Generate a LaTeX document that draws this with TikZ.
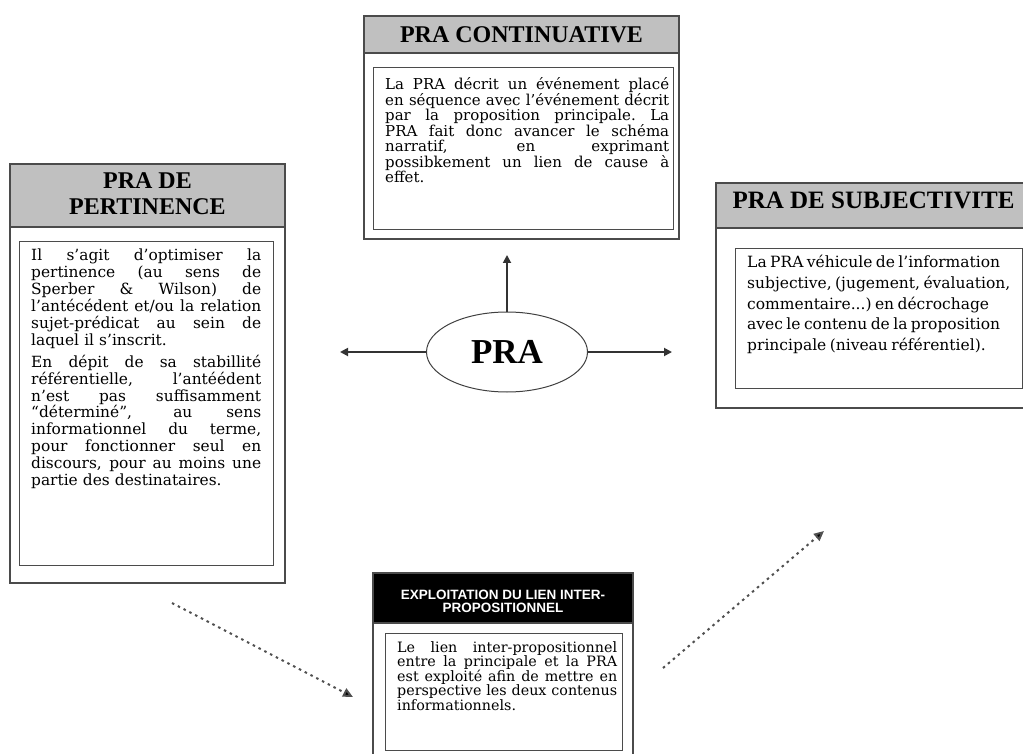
\documentclass[tikz,border=0pt]{standalone}
\usepackage{fontspec}
\setmainfont{DejaVu Serif}
\newfontfamily\titlefont{Liberation Serif}
\newfontfamily\bannerfont{Liberation Sans}
\usepackage{tikz}
\usetikzlibrary{shapes.geometric}
\usetikzlibrary{arrows.meta}
\definecolor{hdrgray}{RGB}{192,192,192}
\definecolor{framegray}{RGB}{75,75,75}
\definecolor{dotgray}{RGB}{80,80,80}
\newlength{\jlw}
\newcommand{\jl}[1]{\leavevmode\hbox to \jlw{\spaceskip=0.32em plus 8em minus 0.05em\xspaceskip=\spaceskip\relax #1}\\}

\begin{document}
\begin{tikzpicture}[x=1pt, y=-1pt,
            outerframe/.style={draw=framegray, line width=1.3pt},
            hdrband/.style={draw=framegray, line width=1.3pt, fill=hdrgray},
            innerframe/.style={draw=framegray, line width=1pt},
            hdrtitle/.style={inner sep=0pt, align=center, font=\titlefont\bfseries\fontsize{24}{26}\selectfont},
            bodytext/.style={anchor=north west, inner sep=0pt, align=left},
            solidarrow/.style={draw=black!80, line width=1.8pt, -{Triangle[length=8pt,width=8pt]}},
            dotarrow/.style={draw=dotgray, line width=2pt, dash pattern=on 2.5pt off 4pt, -{Triangle[length=10pt,width=9pt,fill=black]}}]
            \useasboundingbox (0,0) rectangle (1023,754);
            \fill[white] (0,0) rectangle (1023,754);
            \draw[outerframe] (364,16) rectangle (679,239);
            \draw[line width=2.5pt, framegray] (364,239) -- (679,239);
            \draw[hdrband] (364,16) rectangle (679,53);
            \node[hdrtitle] (contTitle) at (521.5,35) {PRA CONTINUATIVE};
            \draw[innerframe] (373,68) rectangle (673,230);
            \node[bodytext, text width=284pt, font=\fontsize{15}{14.2}\selectfont] (contText) at (385,77) {%
                \setlength{\jlw}{284pt}%
                \jl{La PRA décrit un événement placé}
                \jl{en séquence avec l’événement décrit}
                \jl{par la proposition principale. La}
                \jl{PRA fait donc avancer le schéma}
                \jl{narratif, en exprimant}
                \jl{possibkement un lien de cause à}
                effet.};
            \draw[outerframe] (10,164) rectangle (285,583);
            \draw[line width=2.5pt, framegray] (10,583) -- (285,583);
            \draw[hdrband] (10,164) rectangle (285,227);
            \node[hdrtitle] (pertTitle) at (147.5,194) {PRA DE\\PERTINENCE};
            \draw[innerframe] (19,242) rectangle (273,565);
            \node[bodytext, text width=230pt, font=\fontsize{15.4}{16.9}\selectfont] (pertText) at (31,249) {%
                \setlength{\jlw}{230pt}%
                \jl{Il s’agit d’optimiser la}
                \jl{pertinence (au sens de}
                \jl{Sperber \& Wilson) de}
                \jl{l’antécédent et/ou la relation}
                \jl{sujet-prédicat au sein de}
                laquel il s’inscrit.\\[5pt]
                \jl{En dépit de sa stabillité}
                \jl{référentielle, l’antéédent}
                \jl{n’est pas suffisamment}
                \jl{“déterminé”, au sens}
                \jl{informationnel du terme,}
                \jl{pour fonctionner seul en}
                \jl{discours, pour au moins une}
                partie des destinataires.};
            \draw[outerframe] (716,183) rectangle (1040,408);
            \draw[line width=2.5pt, framegray] (716,408) -- (1040,408);
            \draw[hdrband] (716,183) rectangle (1040,228);
            \node[hdrtitle, font=\titlefont\bfseries\fontsize{25}{26}\selectfont] (subjTitle) at (873.5,200) {PRA DE SUBJECTIVITE};
            \draw[innerframe] (735,249) rectangle (1022,388);
            \node[bodytext, text width=270pt, font=\fontsize{15.5}{20.8}\selectfont] (subjText) at (747,255) {%
                \spaceskip=0.22em\xspaceskip=0.22em%
                La PRA véhicule de l’information\\
                subjective, (jugement, évaluation,\\
                commentaire...) en décrochage\\
                avec le contenu de la proposition\\
                principale (niveau référentiel).};
            \draw[outerframe] (373,573) rectangle (633,770);
            \draw[outerframe, fill=black] (373,573) rectangle (633,623);
            \node[inner sep=0pt, align=center, text=white, font=\bannerfont\bfseries\fontsize{13.5}{13.5}\selectfont] (exploTitle) at (503,601.5) {EXPLOITATION DU LIEN INTER-\\PROPOSITIONNEL};
            \draw[innerframe] (385,633) rectangle (622,750);
            \node[bodytext, text width=220pt, font=\fontsize{14.3}{14.2}\selectfont] (exploText) at (397,641) {%
                \setlength{\jlw}{220pt}%
                \jl{Le lien inter-propositionnel}
                \jl{entre la principale et la PRA}
                \jl{est exploité afin de mettre en}
                \jl{perspective les deux contenus}
                informationnels.};
            \node[ellipse, draw=black!75, line width=1pt, minimum width=161pt, minimum height=80pt, inner sep=0pt, font=\titlefont\bfseries\fontsize{35}{35}\selectfont] (pra) at (507,352) {PRA};
            \coordinate (upEnd) at (507,255);
            \coordinate (leftEnd) at (340,352);
            \coordinate (rightEnd) at (672,352);
            \draw[solidarrow] (pra.north) -- (upEnd);
            \draw[solidarrow] (pra.west) -- (leftEnd);
            \draw[solidarrow] (pra.east) -- (rightEnd);
            \coordinate (pertOut) at (172,603);
            \coordinate (exploIn) at (353,697);
            \coordinate (exploOut) at (663,668);
            \coordinate (subjIn) at (824,531);
            \draw[dotarrow] (pertOut) -- (exploIn);
            \draw[dotarrow] (exploOut) -- (subjIn);
        \end{tikzpicture}
\end{document}
